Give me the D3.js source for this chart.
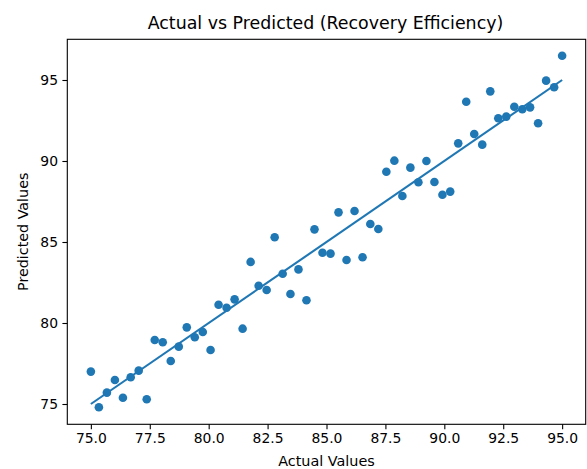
<!DOCTYPE html>
<html>
<head>
<meta charset="utf-8">
<title>Actual vs Predicted (Recovery Efficiency)</title>
<script src="https://d3js.org/d3.v7.min.js"></script>
<style>
	body {
		margin: 0;
		background: #fff;
		font-family: "DejaVu Sans", sans-serif;
	}

	.axis text {
		font-family: "DejaVu Sans", sans-serif;
		font-size: 13.9px;
		fill: #000;
	}

	.axis path,
	.axis line {
		stroke: #000;
		stroke-width: 1.1px;
	}
</style>
</head>
<body>
<script>
	var actual = [
		75.00, 75.34, 75.68, 76.02, 76.36, 76.69, 77.03, 77.37, 77.71, 78.05,
		78.39, 78.73, 79.07, 79.41, 79.75, 80.08, 80.42, 80.76, 81.10, 81.44,
		81.78, 82.12, 82.46, 82.80, 83.14, 83.47, 83.81, 84.15, 84.49, 84.83,
		85.17, 85.51, 85.85, 86.19, 86.53, 86.86, 87.20, 87.54, 87.88, 88.22,
		88.56, 88.90, 89.24, 89.58, 89.92, 90.25, 90.59, 90.93, 91.27, 91.61,
		91.95, 92.29, 92.63, 92.97, 93.31, 93.64, 93.98, 94.32, 94.66, 95.00
	];

	var predicted = [
		77.00, 74.80, 75.70, 76.48, 75.39, 76.65, 77.06, 75.29, 78.95, 78.81,
		77.65, 78.54, 79.73, 79.12, 79.44, 78.33, 81.13, 80.94, 81.46, 79.65,
		83.77, 82.30, 82.04, 85.29, 83.04, 81.79, 83.31, 81.40, 85.78, 84.34,
		84.28, 86.83, 83.89, 86.91, 84.06, 86.11, 85.80, 89.34, 90.02, 87.84,
		89.59, 88.69, 90.00, 88.70, 87.92, 88.11, 91.09, 93.66, 91.67, 91.01,
		94.30, 92.64, 92.74, 93.35, 93.19, 93.31, 92.33, 94.96, 94.55, 96.50
	];

	// ideal line: y = x from min to max of the actual values
	var idealLine = [75, 95];

	var xTicks = [75.0, 77.5, 80.0, 82.5, 85.0, 87.5, 90.0, 92.5, 95.0];
	var yTicks = [75, 80, 85, 90, 95];

	var width = 587,
			height = 469,
			plot = { left: 67.3, right: 585.7, top: 39.3, bottom: 424.3 },
			blue = "#1f77b4";

	var svg = d3.select("body").append("svg")
			.attr("width", width)
			.attr("height", height);

	var x = d3.scaleLinear()
			.domain([74, 96])
			.range([plot.left, plot.right]);

	var y = d3.scaleLinear()
			.domain([73.747, 97.512])
			.range([plot.bottom, plot.top]);

	var points = actual.map(function(a, i) { return { a: a, p: predicted[i] }; });

	// scatter points
	svg.append("g")
		.selectAll("circle")
		.data(points)
		.enter().append("circle")
			.attr("cx", function(d) { return x(d.a); })
			.attr("cy", function(d) { return y(d.p); })
			.attr("r", 4.3)
			.attr("fill", blue);

	// y = x line
	svg.append("path")
			.datum(idealLine)
			.attr("fill", "none")
			.attr("stroke", blue)
			.attr("stroke-width", 2.1)
			.attr("d", d3.line()
				.x(function(d) { return x(d); })
				.y(function(d) { return y(d); }));

	// axes
	svg.append("g")
			.attr("class", "axis")
			.attr("transform", "translate(0," + plot.bottom + ")")
			.call(d3.axisBottom(x)
				.tickValues(xTicks)
				.tickFormat(d3.format(".1f"))
				.tickSize(4.9)
				.tickPadding(4.4)
				.tickSizeOuter(0))
			.call(function(g) { g.select(".domain").remove(); });

	svg.append("g")
			.attr("class", "axis")
			.attr("transform", "translate(" + plot.left + ",0)")
			.call(d3.axisLeft(y)
				.tickValues(yTicks)
				.tickFormat(d3.format("d"))
				.tickSize(4.9)
				.tickPadding(4.4)
				.tickSizeOuter(0))
			.call(function(g) { g.select(".domain").remove(); });

	// frame
	svg.append("rect")
			.attr("x", plot.left)
			.attr("y", plot.top)
			.attr("width", plot.right - plot.left)
			.attr("height", plot.bottom - plot.top)
			.attr("fill", "none")
			.attr("stroke", "#000")
			.attr("stroke-width", 1.1);

	// title and axis labels
	svg.append("text")
			.attr("x", 325.5)
			.attr("y", 28.8)
			.attr("text-anchor", "middle")
			.style("font-size", "17.4px")
			.text("Actual vs Predicted (Recovery Efficiency)");

	svg.append("text")
			.attr("x", (plot.left + plot.right) / 2)
			.attr("y", 465.5)
			.attr("text-anchor", "middle")
			.style("font-size", "14.4px")
			.text("Actual Values");

	svg.append("text")
			.attr("transform", "translate(27.5," + (plot.top + plot.bottom) / 2 + ") rotate(-90)")
			.attr("text-anchor", "middle")
			.style("font-size", "14.3px")
			.text("Predicted Values");
</script>
</body>
</html>
